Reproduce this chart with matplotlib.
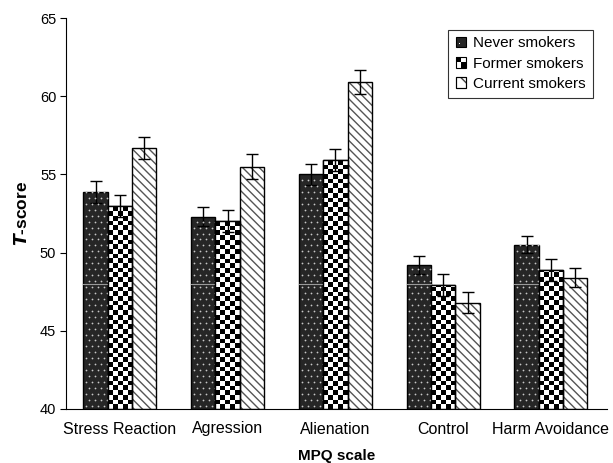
import numpy as np
import matplotlib
matplotlib.use('Agg')
import matplotlib.pyplot as plt
from matplotlib.patches import Rectangle
from matplotlib.legend_handler import HandlerBase

plt.rcParams['font.family'] = ['Liberation Sans', 'DejaVu Sans']
plt.rcParams['hatch.linewidth'] = 1.0

scales = ['Stress Reaction', 'Agression', 'Alienation', 'Control', 'Harm Avoidance']
never = [53.9, 52.3, 55.0, 49.2, 50.5]
former = [53.0, 52.0, 55.9, 47.9, 48.9]
current = [56.7, 55.5, 60.9, 46.8, 48.4]
never_err = [0.7, 0.6, 0.65, 0.6, 0.55]
former_err = [0.7, 0.7, 0.7, 0.7, 0.7]
current_err = [0.7, 0.8, 0.75, 0.65, 0.6]
groups = ['Never smokers', 'Former smokers', 'Current smokers']

x = np.arange(len(scales))
w = 0.226

fig = plt.figure(figsize=(6.13, 4.63), dpi=100)
ax = fig.add_axes([66 / 613, 54 / 463, 541 / 613, 391 / 463])
ax.set_xlim(-0.50, 4.52)
ax.set_ylim(40, 65)

err_kw = dict(ecolor='black', elinewidth=1, capsize=4, capthick=1)

# never smokers: dark fill with small light dots
nb = ax.bar(x - w, np.array(never) - 40, w, bottom=40, color='#262626',
            edgecolor='black', linewidth=1, yerr=never_err, error_kw=err_kw, zorder=2)
for rect in nb:
    x0 = rect.get_x()
    top = rect.get_y() + rect.get_height()
    xs = x0 + np.arange(0.025, w, 0.056)
    ys = np.arange(40.2, top, 0.38)
    gx, gy = np.meshgrid(xs, ys)
    gx = gx + (np.arange(len(ys))[:, None] % 2) * 0.028
    sc = ax.scatter(gx.ravel(), gy.ravel(), s=1.6, c='#c8c8c8', linewidths=0, zorder=2.5)
    sc.set_clip_path(rect)
    ax.plot([x0, x0 + w], [48, 48], color='#9a9a9a', lw=0.8, zorder=2.6)

# former smokers: checkerboard
fb = ax.bar(x, np.array(former) - 40, w, bottom=40, color='white',
            edgecolor='black', linewidth=1, zorder=2)
ax.errorbar(x, former, yerr=former_err, fmt='none', zorder=4, **err_kw)
cell_y = 0.30
for rect in fb:
    x0 = rect.get_x()
    h = rect.get_height()
    ny = int(np.ceil(h / cell_y))
    board = (np.add.outer(np.arange(ny), np.arange(5)) % 2).astype(float)
    im = ax.imshow(board, cmap='gray_r', vmin=0, vmax=1, interpolation='nearest',
                   extent=[x0, x0 + w, 40, 40 + ny * cell_y], origin='lower',
                   aspect='auto', zorder=2.5)
    im.set_clip_path(rect)
ax.bar(x, np.array(former) - 40, w, bottom=40, fill=False,
       edgecolor='black', linewidth=1, zorder=3)

# current smokers: diagonal lines
plt.rcParams['hatch.color'] = '#555555'
ax.bar(x + w, np.array(current) - 40, w, bottom=40, color='white',
       edgecolor='#555555', linewidth=0, hatch='\\\\\\\\', zorder=2)
ax.bar(x + w, np.array(current) - 40, w, bottom=40, fill=False,
       edgecolor='black', linewidth=1, yerr=current_err, error_kw=err_kw, zorder=3)

ax.set_xlim(-0.50, 4.52)
ax.set_ylim(40, 65)
ax.set_xticks(x)
ax.set_xticklabels(scales, fontsize=11.5)
ax.tick_params(axis='x', length=0, pad=9)
ax.set_yticks(np.arange(40, 66, 5))
ax.tick_params(axis='y', labelsize=10.5, direction='out', length=4, pad=3)
for s in ['top', 'right']:
    ax.spines[s].set_visible(False)
ax.set_xlabel('MPQ scale', fontsize=11, fontweight='bold', labelpad=9)
ax.set_ylabel('$\\bfit{T}$-score', fontsize=12.5, fontweight='bold', labelpad=7)


class Handler(HandlerBase):
    def __init__(self, kind):
        super().__init__()
        self.kind = kind

    def create_artists(self, legend, orig_handle, xdescent, ydescent, width, height, fontsize, trans):
        s = height * 0.95
        x0 = -xdescent + (width - s) / 2
        y0 = -ydescent
        arts = []
        if self.kind == 0:
            arts.append(Rectangle((x0, y0), s, s, facecolor='#262626', edgecolor='black', lw=0.8, transform=trans))
            arts.append(Rectangle((x0 + s * 0.3, y0 + s * 0.3), s * 0.12, s * 0.12, facecolor='white', lw=0, transform=trans))
        elif self.kind == 1:
            arts.append(Rectangle((x0, y0), s, s, facecolor='white', edgecolor='black', lw=0.8, transform=trans))
            arts.append(Rectangle((x0, y0 + s / 2), s / 2, s / 2, facecolor='black', lw=0, transform=trans))
            arts.append(Rectangle((x0 + s / 2, y0), s / 2, s / 2, facecolor='black', lw=0, transform=trans))
        else:
            arts.append(Rectangle((x0, y0), s, s, facecolor='white', edgecolor='#444444', hatch='\\\\',
                                  lw=0.8, transform=trans))
            arts.append(Rectangle((x0, y0), s, s, fill=False, edgecolor='black', lw=0.8, transform=trans))
        return arts


handles = [Rectangle((0, 0), 1, 1) for _ in groups]
leg = ax.legend(handles, groups, loc='upper right', bbox_to_anchor=(0.988, 0.99),
                fontsize=11, frameon=True, fancybox=False, edgecolor='black',
                handler_map={handles[i]: Handler(i) for i in range(3)},
                handlelength=0.8, handletextpad=0.4, labelspacing=0.4, borderpad=0.45)
leg.get_frame().set_linewidth(0.8)

fig.savefig('out.png', dpi=100)
